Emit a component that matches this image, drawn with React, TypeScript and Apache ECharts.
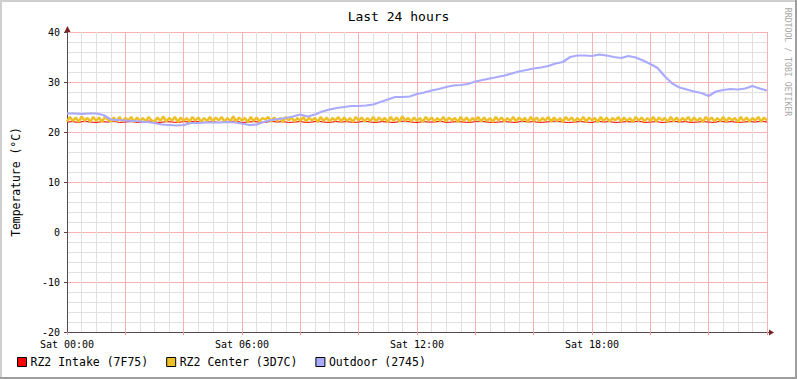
import React, { useEffect, useRef } from "react";
import * as echarts from "echarts";

const TITLE = "Last 24 hours";
const Y_NAME = "Temperature (°C)";
const WATERMARK = "RRDTOOL / TOBI OETIKER";
const SERIES_NAMES = ["RZ2 Intake (7F75)", "RZ2 Center (3D7C)", "Outdoor (2745)"];
const SERIES_COLORS = ["#FF0000", "#EEC028", "#AAAAFF"];
const X_LABEL_DAY = "Sat";

// Outdoor, every 15 minutes from 00:00 to 24:00
const OUTDOOR_STEP_H = 0.25;
const outdoor = [
  23.7, 23.7, 23.6, 23.7, 23.7, 23.4, 22.5, 22.4, 22.3, 22.2, 22.1, 22.0, 21.8, 21.5, 21.4, 21.3,
  21.4, 21.8, 21.8, 21.9, 21.9, 21.9, 22.0, 21.9, 21.7, 21.4, 21.5, 22.0, 22.4, 22.6, 22.8, 23.1,
  23.5, 23.1, 23.5, 24.1, 24.5, 24.8, 25.0, 25.2, 25.2, 25.3, 25.5, 26.0, 26.5, 27.0, 27.0, 27.1,
  27.6, 27.9, 28.3, 28.6, 29.0, 29.3, 29.4, 29.6, 30.1, 30.4, 30.7, 31.0, 31.3, 31.7, 32.1, 32.4,
  32.7, 32.9, 33.2, 33.7, 34.0, 35.0, 35.3, 35.3, 35.2, 35.5, 35.3, 35.0, 34.8, 35.2, 34.9, 34.3,
  33.6, 32.8, 31.1, 29.7, 28.9, 28.5, 28.1, 27.8, 27.2, 28.1, 28.4, 28.6, 28.5, 28.7, 29.2, 28.7,
  28.3,
];

// RZ2 Center, every 6 minutes
const CENTER_STEP_H = 0.1;
const center = [
  22.1, 23.0, 22.2, 22.9, 22.0, 23.1, 22.3, 22.8, 22.1, 23.0,
  22.2, 22.9, 22.0, 23.0, 22.5, 22.1, 22.9, 22.2, 23.0, 22.1,
  22.8, 22.3, 23.0, 22.0, 22.9, 22.2, 22.8, 22.1, 23.0, 22.3,
  22.1, 22.9, 22.2, 23.1, 22.1, 22.8, 22.3, 23.0, 22.0, 22.9,
  22.2, 22.8, 22.1, 23.0, 22.3, 22.9, 22.0, 22.8, 22.2, 23.0,
  22.1, 22.9, 22.3, 23.0, 22.1, 22.8, 22.2, 23.1, 22.1, 22.9,
  22.3, 22.8, 22.0, 23.0, 22.2, 22.9, 22.1, 22.8, 22.5, 23.0,
  22.1, 22.9, 22.2, 22.8, 22.0, 23.0, 22.3, 22.9, 22.1, 22.8,
  22.2, 23.0, 22.1, 22.9, 22.3, 22.8, 22.0, 23.0, 22.2, 22.9,
  22.1, 22.8, 22.3, 23.0, 22.1, 22.9, 22.2, 22.8, 22.0, 23.0,
  22.3, 22.9, 22.1, 22.8, 22.2, 23.0, 22.1, 22.9, 22.3, 22.8,
  22.0, 23.0, 22.2, 22.9, 22.1, 23.1, 22.3, 22.8, 22.1, 22.9,
  22.2, 22.8, 22.0, 23.0, 22.3, 22.9, 22.1, 22.8, 22.2, 23.0,
  22.1, 22.9, 22.3, 22.8, 22.0, 23.0, 22.2, 22.9, 22.1, 22.8,
  22.3, 23.0, 22.1, 22.9, 22.2, 22.8, 22.0, 23.0, 22.3, 22.9,
  22.1, 22.8, 22.2, 23.0, 22.1, 22.9, 22.3, 22.8, 22.0, 23.0,
  22.2, 22.9, 22.1, 22.8, 22.3, 23.0, 22.1, 22.9, 22.2, 22.8,
  22.0, 23.0, 22.3, 22.9, 22.1, 22.8, 22.2, 23.0, 22.1, 22.9,
  22.3, 22.8, 22.0, 23.0, 22.2, 22.9, 22.1, 22.8, 22.3, 23.0,
  22.1, 22.9, 22.2, 22.8, 22.0, 23.0, 22.3, 22.9, 22.1, 22.8,
  22.2, 23.0, 22.1, 22.9, 22.3, 22.8, 22.0, 23.0, 22.2, 22.9,
  22.1, 22.8, 22.3, 23.0, 22.1, 22.9, 22.2, 22.8, 22.0, 23.0,
  22.3, 22.9, 22.1, 22.8, 22.2, 23.0, 22.1, 22.9, 22.3, 22.8,
  22.0, 23.0, 22.2, 22.9, 22.1, 22.8, 22.3, 23.0, 22.1, 22.9,
  22.3,
];

// RZ2 Intake, every 12 minutes
const INTAKE_STEP_H = 0.2;
const intake = [
  22.0, 22.1, 21.9, 22.2, 22.0, 21.9, 22.1, 22.0, 22.2, 21.9,
  22.0, 22.1, 21.9, 22.0, 22.2, 22.0, 21.9, 22.1, 22.0, 21.9,
  22.1, 22.0, 22.2, 21.9, 22.0, 22.1, 21.9, 22.0, 22.1, 22.2,
  21.9, 22.0, 22.1, 22.0, 21.9, 22.2, 22.0, 22.1, 21.9, 22.0,
  22.1, 21.9, 22.0, 22.2, 22.0, 21.9, 22.1, 22.0, 22.1, 21.9,
  22.0, 22.2, 22.0, 21.9, 22.1, 22.0, 21.9, 22.1, 22.2, 22.0,
  21.9, 22.1, 22.0, 22.0, 22.2, 21.9, 22.0, 22.1, 22.0, 21.9,
  22.1, 22.2, 22.0, 21.9, 22.0, 22.1, 22.0, 21.9, 22.2, 22.0,
  22.1, 21.9, 22.0, 22.1, 22.2, 22.0, 21.9, 22.0, 22.1, 22.0,
  21.9, 22.2, 22.0, 22.1, 21.9, 22.0, 22.1, 22.0, 22.2, 21.9,
  22.0, 22.1, 21.9, 22.0, 22.2, 22.0, 22.1, 21.9, 22.0, 22.1,
  22.0, 21.9, 22.2, 22.0, 22.1, 21.9, 22.0, 22.1, 22.0, 22.2,
  22.0,
];

const Y_MIN = -20;
const Y_MAX = 40;
const Y_INTERVAL = 10;
const X_MIN = 0;
const X_MAX = 24;
const X_INTERVAL = 2;
const X_LABEL_EVERY = 6;

const FONT = "DejaVu Sans Mono";

const toPairs = (arr: number[], step: number) => arr.map((v, i) => [+(i * step).toFixed(3), v]);

export default function App() {
  const ref = useRef<HTMLDivElement>(null);
  useEffect(() => {
    document.body.style.margin = "0";
    if (!ref.current) return;
    const chart = echarts.init(ref.current, undefined, { renderer: "svg" });
    const W = 797;
    const H = 379;
    const left = 67;
    const top = 32;
    const right = 767;
    const bottom = 332;
    chart.setOption({
      animation: false,
      backgroundColor: "#FFFFFF",
      title: {
        text: TITLE,
        left: "center",
        top: 5,
        textStyle: { fontFamily: FONT, fontSize: 13, fontWeight: "normal", color: "#000" },
      },
      legend: {
        left: 12,
        top: 351,
        itemWidth: 9,
        itemHeight: 9,
        itemGap: 18,
        icon: "rect",
        itemStyle: { borderColor: "#000", borderWidth: 1 },
        textStyle: { fontFamily: FONT, fontSize: 11.5, color: "#000", padding: [0, 0, 0, -1] },
        data: SERIES_NAMES,
      },
      grid: { left, top, width: right - left, height: bottom - top, containLabel: false },
      xAxis: {
        type: "value",
        min: X_MIN,
        max: X_MAX,
        interval: X_INTERVAL,
        axisLine: { show: true, onZero: false, lineStyle: { color: "#544848", width: 1 } },
        axisTick: { show: true, length: 3, lineStyle: { color: "#e89a9a" } },
        minorTick: { show: false, splitNumber: 4 },
        splitLine: { show: true, lineStyle: { color: "#F4B2B2", width: 1 } },
        minorSplitLine: { show: true, lineStyle: { color: "#E0E0E0", width: 1 } },
        axisLabel: {
          margin: 7,
          fontFamily: FONT,
          fontSize: 10,
          color: "#000",
          formatter: (v: number) =>
            v % X_LABEL_EVERY === 0 && v < X_MAX ? `${X_LABEL_DAY} ${String(v).padStart(2, "0")}:00` : "",
        },
      },
      yAxis: {
        type: "value",
        min: Y_MIN,
        max: Y_MAX,
        interval: Y_INTERVAL,
        axisLine: { show: true, onZero: false, lineStyle: { color: "#544848", width: 1 } },
        axisTick: { show: true, length: 3, lineStyle: { color: "#544848" } },
        minorTick: { show: false, splitNumber: 5 },
        splitLine: { show: true, lineStyle: { color: "#F4B2B2", width: 1 } },
        minorSplitLine: { show: true, lineStyle: { color: "#E0E0E0", width: 1 } },
        axisLabel: { margin: 7, fontFamily: FONT, fontSize: 10, color: "#000" },
      },
      series: [
        {
          name: SERIES_NAMES[0],
          type: "line",
          data: toPairs(intake, INTAKE_STEP_H),
          showSymbol: false,
          symbol: "none",
          lineStyle: { color: SERIES_COLORS[0], width: 1 },
          itemStyle: { color: SERIES_COLORS[0] },
        },
        {
          name: SERIES_NAMES[1],
          type: "line",
          data: toPairs(center, CENTER_STEP_H),
          showSymbol: false,
          symbol: "none",
          lineStyle: { color: SERIES_COLORS[1], width: 2.5 },
          itemStyle: { color: SERIES_COLORS[1] },
        },
        {
          name: SERIES_NAMES[2],
          type: "line",
          data: toPairs(outdoor, OUTDOOR_STEP_H),
          showSymbol: false,
          symbol: "none",
          lineStyle: { color: SERIES_COLORS[2], width: 2.2 },
          itemStyle: { color: SERIES_COLORS[2] },
        },
      ],
      graphic: [
        { type: "rect", shape: { x: 0, y: 0, width: W, height: 2 }, style: { fill: "#CFCFCF" }, silent: true },
        { type: "rect", shape: { x: 0, y: 0, width: 2, height: H }, style: { fill: "#CFCFCF" }, silent: true },
        { type: "rect", shape: { x: W - 2, y: 0, width: 2, height: H }, style: { fill: "#9E9E9E" }, silent: true },
        { type: "rect", shape: { x: 0, y: H - 2, width: W, height: 2 }, style: { fill: "#9E9E9E" }, silent: true },
        { type: "line", shape: { x1: left + 0.5, y1: top, x2: left + 0.5, y2: top - 3 }, style: { stroke: "#544848", lineWidth: 1 } },
        { type: "line", shape: { x1: left, y1: bottom + 0.5, x2: right + 4, y2: bottom + 0.5 }, style: { stroke: "#544848", lineWidth: 1 } },
        {
          type: "polygon",
          shape: { points: [[left + 0.5, top - 6], [left - 2.5, top], [left + 3.5, top]] },
          style: { fill: "#7F1F1F" },
        },
        {
          type: "polygon",
          shape: { points: [[right + 7, bottom + 0.5], [right + 2, bottom - 2.5], [right + 2, bottom + 3.5]] },
          style: { fill: "#7F1F1F" },
        },
        {
          type: "text",
          x: 16,
          y: (top + bottom) / 2,
          rotation: Math.PI / 2,
          style: {
            text: Y_NAME,
            fontFamily: FONT,
            fontSize: 11.4,
            fill: "#000",
            align: "center",
            verticalAlign: "middle",
          },
        },
        {
          type: "text",
          x: 788,
          y: 62,
          rotation: -Math.PI / 2,
          style: {
            text: WATERMARK,
            fontFamily: FONT,
            fontSize: 8.2,
            fill: "#A8A8A8",
            align: "center",
            verticalAlign: "middle",
          },
        },
      ],
    });
    return () => chart.dispose();
  }, []);
  return <div ref={ref} style={{ width: 797, height: 379 }} />;
}
